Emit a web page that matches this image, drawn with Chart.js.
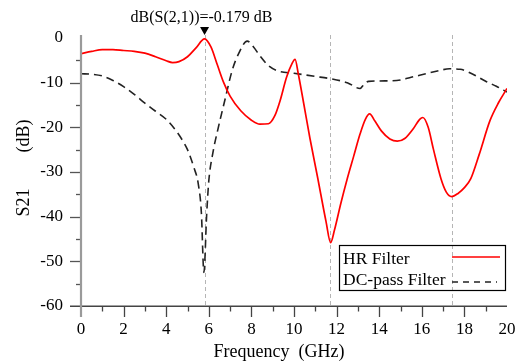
<!DOCTYPE html>
<html>
<head>
<meta charset="utf-8">
<script src="https://cdn.jsdelivr.net/npm/chart.js@4/dist/chart.umd.min.js"></script>
<style>
  html, body { margin: 0; padding: 0; background: #ffffff; }
  #wrap { width: 520px; height: 362px; }
</style>
</head>
<body>
<div id="wrap"><canvas id="c" width="520" height="362"></canvas></div>
<script>
// ---- data ----
const hrFreq = [0, 0.5, 1.0, 1.5, 2.0, 2.5, 3.0, 3.5, 4.0, 4.3, 4.6, 5.0, 5.4, 5.8, 6.1, 6.4, 6.7, 7.0, 7.5, 8.0, 8.4, 8.8, 9.1, 9.35, 9.65, 9.9, 10.05, 10.2, 10.45, 10.75, 11.1, 11.5, 11.72, 11.9, 12.2, 12.5, 12.8, 13.1, 13.35, 13.55, 13.8, 14.1, 14.5, 14.85, 15.2, 15.6, 15.9, 16.05, 16.3, 16.55, 16.9, 17.15, 17.4, 17.7, 18.0, 18.3, 18.7, 19.2, 19.6, 20.0];
const hrS21  = [-3.5, -3.0, -2.6, -2.6, -2.8, -3.0, -3.4, -4.2, -5.1, -5.5, -5.3, -4.2, -2.2, -0.179, -2.0, -6.0, -10.0, -13.0, -16.3, -18.4, -19.3, -19.2, -17.4, -14.0, -8.8, -5.8, -4.8, -8.0, -14.5, -22.5, -31.0, -41.0, -45.8, -43.0, -37.0, -31.5, -26.5, -21.5, -18.2, -17.0, -18.6, -20.8, -22.6, -23.1, -22.5, -20.3, -18.2, -17.8, -20.0, -25.0, -31.5, -34.5, -35.5, -34.8, -33.5, -31.5, -26.0, -18.5, -14.5, -11.3];

const dcFreq = [0, 0.5, 1.0, 1.5, 2.0, 2.5, 3.0, 3.5, 4.0, 4.5, 4.75, 5.0, 5.3, 5.5, 5.65, 5.77, 5.9, 6.0, 6.2, 6.4, 6.75, 7.1, 7.4, 7.8, 8.1, 8.4, 8.8, 9.2, 10.0, 11.0, 11.7, 12.5, 13.1, 13.3, 13.5, 14.5, 15.0, 15.5, 16.2, 16.8, 17.3, 17.8, 18.4, 19.0, 19.5, 20.0];
const dcS21  = [-8.0, -8.1, -8.5, -9.5, -10.9, -12.6, -14.6, -16.4, -18.2, -21.0, -22.8, -25.0, -29.0, -32.5, -39.0, -52.5, -39.5, -32.0, -25.5, -21.0, -14.0, -7.2, -3.5, -0.7, -2.0, -4.0, -6.2, -7.3, -7.9, -8.6, -9.1, -10.0, -11.3, -10.3, -9.7, -9.6, -9.4, -8.8, -8.0, -7.3, -6.9, -7.0, -8.1, -9.7, -10.8, -12.1];

const markerFreqs = [5.8, 11.7, 17.4];
const markerValue = -0.179;
const xTicks = [0, 2, 4, 6, 8, 10, 12, 14, 16, 18, 20];
const yTicks = [0, -10, -20, -30, -40, -50, -60];
const seriesNames = ['HR Filter', 'DC-pass Filter'];
const xTitle = 'Frequency  (GHz)';
const yTitle = 'S21        (dB)';

const FONT = "'Liberation Serif', 'Times New Roman', serif";

function toPoints(xs, ys) { return xs.map((x, i) => ({ x: x, y: ys[i] })); }

const decor = {
  id: 'decor',
  beforeDatasetsDraw(chart) {
    const { ctx, chartArea, scales } = chart;
    const xs = scales.x;
    ctx.save();
    ctx.strokeStyle = '#b5b5b5';
    ctx.lineWidth = 1;
    ctx.setLineDash([4, 3]);
    markerFreqs.forEach(f => {
      const px = Math.round(xs.getPixelForValue(f)) + 0.5;
      ctx.beginPath();
      ctx.moveTo(px, chartArea.top - 3);
      ctx.lineTo(px, chartArea.bottom);
      ctx.stroke();
    });
    ctx.restore();
  },
  afterDraw(chart) {
    const { ctx, chartArea, scales } = chart;
    const xs = scales.x, ys = scales.y;
    const L = chartArea.left, B = chartArea.bottom, T = chartArea.top, R = chartArea.right;
    ctx.save();
    ctx.setLineDash([]);

    // x axis line (dark)
    ctx.strokeStyle = '#444';
    ctx.lineWidth = 1.5;
    ctx.beginPath();
    ctx.moveTo(L - 11, B + 0.25);
    ctx.lineTo(R, B + 0.25);
    ctx.stroke();

    // x ticks
    for (let v = 1; v < 20; v++) {
      const px = Math.round(xs.getPixelForValue(v)) + 0.5;
      const len = (v % 2 === 0) ? 11 : 5.5;
      ctx.strokeStyle = '#444';
      ctx.lineWidth = 1.3;
      ctx.beginPath();
      ctx.moveTo(px, B);
      ctx.lineTo(px, B + len);
      ctx.stroke();
    }
    // y ticks
    for (let v = -5; v > -60; v -= 5) {
      const py = Math.round(ys.getPixelForValue(v)) + 0.5;
      const len = (v % 10 === 0) ? 11 : 5;
      ctx.strokeStyle = '#555';
      ctx.lineWidth = 1.3;
      ctx.beginPath();
      ctx.moveTo(L - len, py);
      ctx.lineTo(L, py);
      ctx.stroke();
    }

    // y axis line (gray, thicker)
    ctx.strokeStyle = '#9a9a9a';
    ctx.lineWidth = 2.2;
    ctx.beginPath();
    ctx.moveTo(L, T - 3);
    ctx.lineTo(L, B + 11);
    ctx.stroke();

    // marker triangle + readout
    const mx = xs.getPixelForValue(markerFreqs[0]);
    ctx.fillStyle = '#000';
    ctx.beginPath();
    ctx.moveTo(mx - 4.5, T - 11);
    ctx.lineTo(mx + 4.5, T - 11);
    ctx.lineTo(mx, T - 3);
    ctx.closePath();
    ctx.fill();
    ctx.font = '16px ' + FONT;
    ctx.textAlign = 'center';
    ctx.textBaseline = 'alphabetic';
    ctx.fillText('dB(S(2,1))=' + markerValue.toFixed(3) + ' dB', mx - 3, 22);

    // legend
    const lx = 339.5, ly = 245.5, lw = 166, lh = 45;
    ctx.strokeStyle = '#000';
    ctx.lineWidth = 1.2;
    ctx.strokeRect(lx, ly, lw, lh);
    ctx.font = '17.5px ' + FONT;
    ctx.textAlign = 'left';
    ctx.textBaseline = 'middle';
    ctx.fillStyle = '#000';
    ctx.fillText(seriesNames[0], 343, 259);
    ctx.fillText(seriesNames[1], 343, 280);
    ctx.strokeStyle = '#ff0000';
    ctx.lineWidth = 1.7;
    ctx.beginPath();
    ctx.moveTo(452, 257);
    ctx.lineTo(500, 257);
    ctx.stroke();
    ctx.strokeStyle = '#222';
    ctx.lineWidth = 1.6;
    ctx.setLineDash([6, 5]);
    ctx.beginPath();
    ctx.moveTo(452, 282);
    ctx.lineTo(497, 282);
    ctx.stroke();
    ctx.setLineDash([]);

    // axis titles
    ctx.fillStyle = '#000';
    ctx.font = '18px ' + FONT;
    ctx.textAlign = 'center';
    ctx.textBaseline = 'alphabetic';
    ctx.fillText(xTitle, 279, 357);
    ctx.save();
    ctx.translate(29, 168);
    ctx.rotate(-Math.PI / 2);
    ctx.fillText(yTitle, 0, 0);
    ctx.restore();

    ctx.restore();
  }
};

new Chart(document.getElementById('c'), {
  type: 'line',
  data: {
    datasets: [
      {
        label: seriesNames[0],
        data: toPoints(hrFreq, hrS21),
        borderColor: '#ff0000',
        borderWidth: 1.7,
        pointRadius: 0,
        fill: false,
        cubicInterpolationMode: 'monotone'
      },
      {
        label: seriesNames[1],
        data: toPoints(dcFreq, dcS21),
        borderColor: '#222222',
        borderWidth: 1.6,
        borderDash: [8, 5],
        pointRadius: 0,
        fill: false,
        cubicInterpolationMode: 'monotone'
      }
    ]
  },
  options: {
    responsive: false,
    animation: false,
    devicePixelRatio: 1,
    layout: { padding: { left: 0, top: 38, right: 13, bottom: 0 } },
    plugins: { legend: { display: false }, tooltip: { enabled: false }, title: { display: false } },
    scales: {
      x: {
        type: 'linear',
        min: 0, max: 20,
        afterFit(scale) { scale.height = 56; },
        afterBuildTicks(scale) { scale.ticks = xTicks.map(v => ({ value: v })); },
        ticks: { color: '#000', font: { family: FONT, size: 17 }, padding: 2, maxRotation: 0, autoSkip: false },
        grid: { display: true, drawOnChartArea: false, drawTicks: true, tickLength: 11, tickColor: 'rgba(0,0,0,0)', color: 'rgba(0,0,0,0)' },
        border: { display: false }
      },
      y: {
        type: 'linear',
        min: -60, max: 0,
        afterFit(scale) { scale.width = 81; },
        afterBuildTicks(scale) { scale.ticks = yTicks.map(v => ({ value: v })); },
        ticks: { color: '#000', font: { family: FONT, size: 17 }, padding: 7, autoSkip: false },
        grid: { display: true, drawOnChartArea: false, drawTicks: true, tickLength: 11, tickColor: 'rgba(0,0,0,0)', color: 'rgba(0,0,0,0)' },
        border: { display: false }
      }
    }
  },
  plugins: [decor]
});
</script>
</body>
</html>
